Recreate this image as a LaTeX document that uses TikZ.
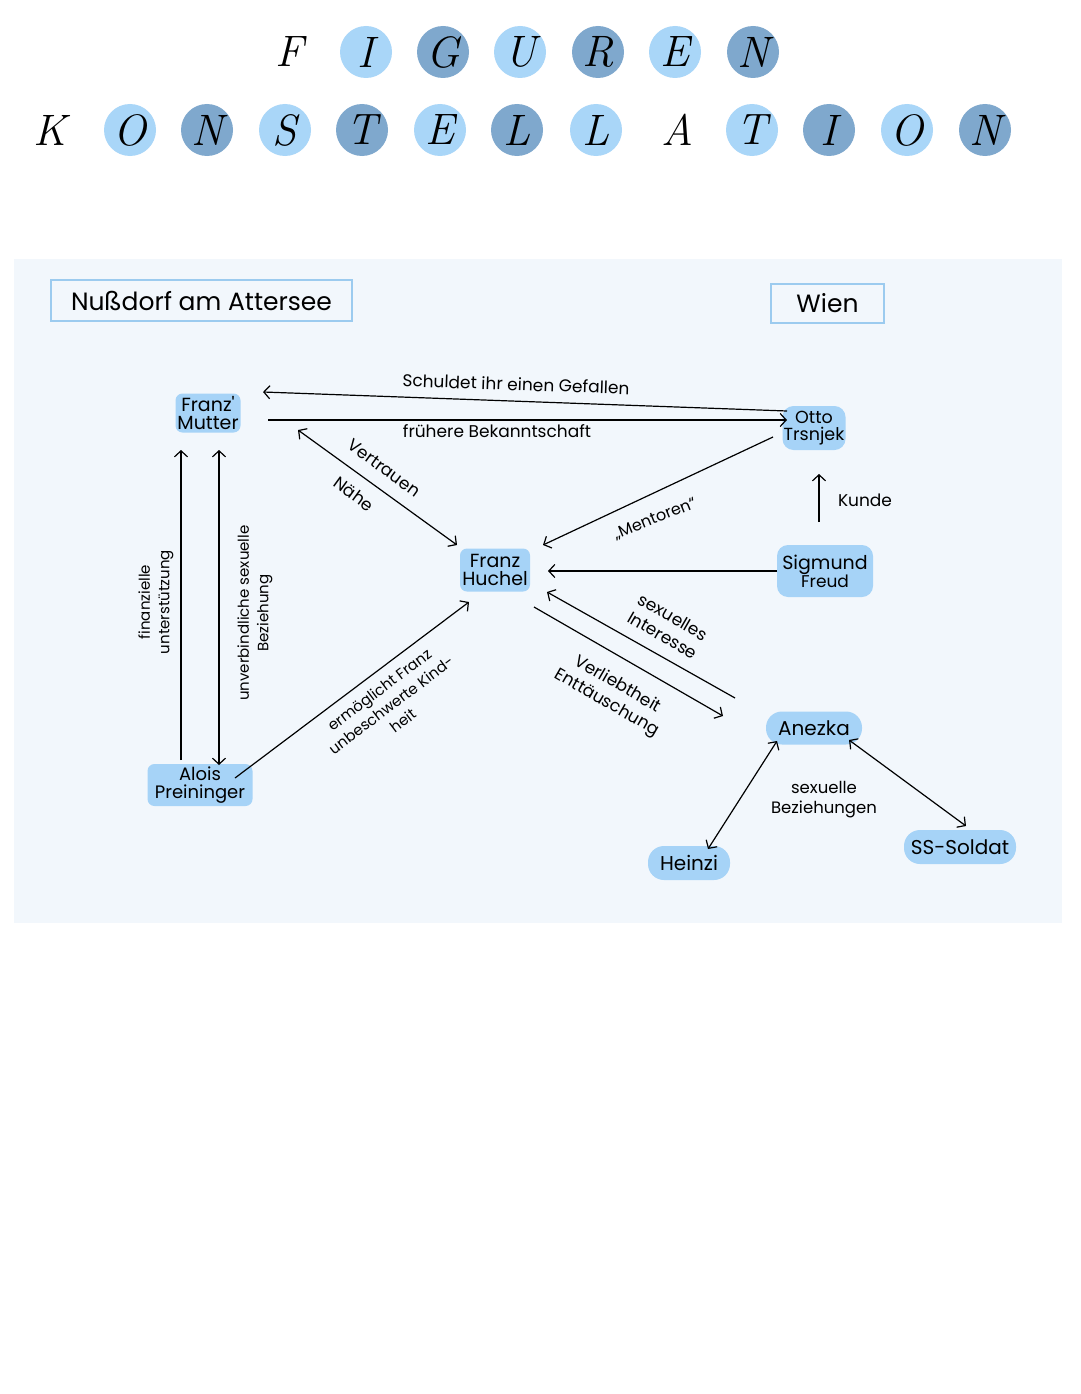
\documentclass[tikz,border=0pt]{standalone}
\usepackage{fontspec}
\newfontfamily\hand{Poppins}
\usetikzlibrary{arrows.meta,calc}
\definecolor{lightc}{HTML}{A9D6F8}
\definecolor{darkc}{HTML}{7FA8CD}
\definecolor{nodefill}{HTML}{A6D3F7}
\definecolor{panel}{HTML}{F2F7FC}
\definecolor{boxline}{HTML}{9CCBEF}
\tikzset{
  ttl/.style={circle,minimum size=52pt,inner sep=0pt,font=\fontsize{44}{44}\selectfont\itshape},
  person/.style={fill=nodefill,rounded corners=7pt,inner sep=1pt,align=center,font=\hand\fontsize{19}{18}\selectfont},
  pill/.style={person,rounded corners=16pt},
  place/.style={draw=boxline,line width=2pt,fill=panel,inner sep=0pt,font=\hand\fontsize{25}{25}\selectfont},
  lbl/.style={font=\hand\fontsize{17}{21}\selectfont,align=center,inner sep=0pt},
  slbl/.style={font=\hand\fontsize{15}{19.5}\selectfont,align=center,inner sep=0pt},
  arr/.style={-{Straight Barb[length=6pt,width=13pt]},line width=1.2pt},
  darr/.style={{Straight Barb[length=6pt,width=13pt]}-{Straight Barb[length=6pt,width=13pt]},line width=1.2pt}
}
\begin{document}
\begin{tikzpicture}[x=1pt,y=-1pt]
\useasboundingbox (0,0) rectangle (1080,1394);
\fill[white] (0,0) rectangle (1080,1394);
% title row 1
\node[ttl] (tF) at (290,52) {F};
\node[ttl,fill=lightc] (tI) at (366,52) {I};
\node[ttl,fill=darkc] (tG) at (443,52) {G};
\node[ttl,fill=lightc] (tU) at (520,52) {U};
\node[ttl,fill=darkc] (tR) at (598,52) {R};
\node[ttl,fill=lightc] (tE) at (675,52) {E};
\node[ttl,fill=darkc] (tN) at (753,52) {N};
% title row 2
\node[ttl] (kK) at (50,130) {K};
\node[ttl,fill=lightc] (kO) at (130,130) {O};
\node[ttl,fill=darkc] (kN) at (207,130) {N};
\node[ttl,fill=lightc] (kS) at (285,130) {S};
\node[ttl,fill=darkc] (kT) at (362,130) {T};
\node[ttl,fill=lightc] (kE) at (440,130) {E};
\node[ttl,fill=darkc] (kL) at (517,130) {L};
\node[ttl,fill=lightc] (kL2) at (596,130) {L};
\node[ttl] (kA) at (677,130) {A};
\node[ttl,fill=lightc] (kT2) at (752,130) {T};
\node[ttl,fill=darkc] (kI) at (829,130) {I};
\node[ttl,fill=lightc] (kO2) at (907,130) {O};
\node[ttl,fill=darkc] (kN2) at (985,130) {N};
% panel
\fill[panel] (14,259) rectangle (1062,923);
\node[place,minimum width=301pt,minimum height=41pt] (nuss) at (201.5,300.5) {Nußdorf am Attersee};
\node[place,minimum width=113pt,minimum height=39pt] (wien) at (827.5,303.5) {Wien};
% persons
\node[person,minimum width=65pt,minimum height=39pt] (mutter) at (208,413) {Franz'\\Mutter};
\node[person,rounded corners=11pt,minimum width=63pt,minimum height=44pt,font=\hand\fontsize{17.5}{17}\selectfont] (otto) at (814,428) {Otto\\Trsnjek};
\node[person,minimum width=70pt,minimum height=43pt] (huchel) at (495,570) {Franz\\Huchel};
\node[person,rounded corners=11pt,minimum width=96pt,minimum height=52pt] (freud) at (825,571) {Sigmund\\{\fontsize{17}{17}\selectfont Freud}};
\node[pill,minimum width=96pt,minimum height=33pt,font=\hand\fontsize{20}{20}\selectfont] (anezka) at (814,728) {Anezka};
\node[person,minimum width=105pt,minimum height=42pt,font=\hand\fontsize{18}{18}\selectfont] (alois) at (200,785) {Alois\\Preininger};
\node[pill,minimum width=82pt,minimum height=34pt,font=\hand\fontsize{20}{20}\selectfont] (heinzi) at (689,863) {Heinzi};
\node[pill,minimum width=112pt,minimum height=34pt,font=\hand\fontsize{20}{20}\selectfont] (soldat) at (960,847) {SS-Soldat};
% connectors
\draw[arr] ($(otto.center)+(-27,-17)$) -- ($(mutter.center)+(55,-21)$);
\draw[arr] ($(mutter.center)+(60,7)$) -- ($(otto.center)+(-27,-8)$);
\draw[darr] ($(mutter.center)+(90,17)$) -- ($(huchel.center)+(-38,-25)$);
\draw[arr] ($(otto.center)+(-41,9)$) -- ($(huchel.center)+(48,-25)$);
\draw[arr] ($(freud.center)+(-48,0)$) -- ($(huchel.center)+(53,1)$);
\draw[arr] ($(freud.center)+(-6,-49)$) -- ($(otto.center)+(5,46)$);
\draw[arr] ($(anezka.center)+(-79,-30)$) -- ($(huchel.center)+(52,22)$);
\draw[arr] ($(huchel.center)+(39,37)$) -- ($(anezka.center)+(-91,-12)$);
\draw[arr] ($(alois.center)+(35,-7)$) -- ($(huchel.center)+(-26,32)$);
\draw[arr] ($(alois.center)+(-19,-25)$) -- ($(mutter.center)+(-27,37)$);
\draw[darr] ($(mutter.center)+(11,37)$) -- ($(alois.center)+(19,-20)$);
\draw[darr] ($(anezka.center)+(-37,13)$) -- ($(heinzi.center)+(19,-14)$);
\draw[darr] ($(anezka.center)+(35,12)$) -- ($(soldat.center)+(6,-21)$);
% labels
\node[lbl,rotate=-2] (l1) at (516,384) {Schuldet ihr einen Gefallen};
\node[lbl] (l2) at (497,431) {frühere Bekanntschaft};
\node[lbl,rotate=-36] (l3) at (384,468) {Vertrauen};
\node[lbl,rotate=-36] (l4) at (354,494) {Nähe};
\node[lbl,rotate=22,font=\hand\fontsize{16}{16}\selectfont] (l5) at (655,519) {„Mentoren“};
\node[lbl] (l6) at (865,500) {Kunde};
\node[lbl,rotate=-30] (l7) at (668,626) {sexuelles\\Interesse};
\node[lbl,rotate=-30] (l8) at (612,694) {Verliebtheit\\Enttäuschung};
\node[slbl,rotate=37] (l9) at (391,705) {ermöglicht Franz\\unbeschwerte Kind-\\heit};
\node[slbl,rotate=90] (l10) at (156,602) {finanzielle\\unterstützung};
\node[slbl,rotate=90] (l11) at (255,613) {unverbindliche sexuelle\\Beziehung};
\node[lbl,font=\hand\fontsize{16.5}{20}\selectfont] (l12) at (824,800) {sexuelle\\Beziehungen};
\end{tikzpicture}
\end{document}
